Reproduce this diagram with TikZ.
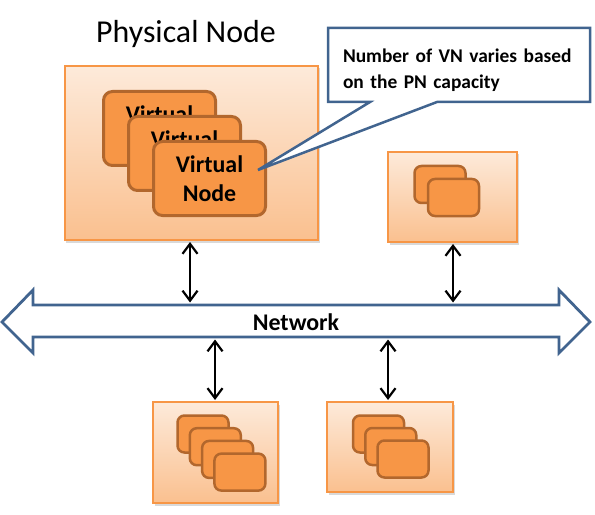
\documentclass[tikz,border=0pt]{standalone}
\usepackage{fontspec}
\setmainfont{Carlito}
\usetikzlibrary{shadows, arrows.meta, calc}

\definecolor{pnline}{HTML}{F79646}
\definecolor{pntop}{HTML}{FDEADA}
\definecolor{pnbottom}{HTML}{FAC08F}
\definecolor{vnfill}{HTML}{F79646}
\definecolor{vnline}{HTML}{B2672D}
\definecolor{netline}{HTML}{41648F}

\tikzset{
    pnbox/.style={draw=pnline, line width=2bp, top color=pntop, bottom color=pnbottom,
        drop shadow={shadow xshift=1.5bp, shadow yshift=-2.5bp, opacity=0.3}},
    vnbig/.style={draw=vnline, fill=vnfill, line width=3bp, rounded corners=9bp,
        minimum width=112bp, minimum height=74bp, align=center,
        font=\fontsize{24}{29}\selectfont\bfseries},
    vnsmall/.style={draw=vnline, fill=vnfill, line width=2.5bp, rounded corners=7bp,
        minimum width=51bp, minimum height=37bp},
    link/.style={{Straight Barb[length=10bp,width=15bp]}-{Straight Barb[length=10bp,width=15bp]},
        line width=2.2bp, shorten <=1bp, shorten >=1bp}
}

\begin{document}
\begin{tikzpicture}[x=1bp, y=-1bp]
    \useasboundingbox (0,0) rectangle (595,515);

    % Title
    \node[anchor=base, font=\fontsize{32}{38}\selectfont] (title) at (186,43) {Physical Node};

    % Physical nodes
    \node[pnbox, minimum width=253bp, minimum height=174bp] (pnA) at (191.5,153) {};
    \node[pnbox, minimum width=129bp, minimum height=90bp] (pnB) at (452.5,197) {};
    \node[pnbox, minimum width=125bp, minimum height=101bp] (pnC) at (215.5,452.5) {};
    \node[pnbox, minimum width=126bp, minimum height=90bp] (pnD) at (390,447) {};

    % Virtual nodes in the big physical node
    \foreach \i in {0,1,2}
        \node[vnbig] (vn\i) at (159.5+25*\i, 128.5+25*\i) {Virtual\\Node};

    % Virtual nodes in the small physical nodes
    \foreach \i in {0,1}
        \node[vnsmall] (vnB\i) at (440+13.5*\i, 184.5+13*\i) {};
    \foreach \i in {0,...,3}
        \node[vnsmall] (vnC\i) at (203+12.3*\i, 434+12.7*\i) {};
    \foreach \i in {0,1,2}
        \node[vnsmall] (vnD\i) at (378.5+12.25*\i, 434+12.5*\i) {};

    % Callout
    \coordinate (callNW) at (328,28);
    \coordinate (callSE) at (590,102);
    \coordinate (tip) at (258,170);
    \draw[netline, line width=2.5bp, fill=white, line join=miter]
        (callNW) -| (callSE) -- ($(callSE)+(-153,0)$) -- (tip)
        -- ($(callNW |- callSE)+(42,0)$) -- (callNW |- callSE) -- cycle;
    \node[text width=232bp, inner sep=0pt, align=left, font=\fontsize{19.5}{26}\selectfont\bfseries]
        (call) at (459,70) {Number of VN varies based\\on the PN capacity};

    % Network
    \draw[netline, line width=2.8bp, fill=white, line join=miter]
        (2,322) -- (33,290) -- (33,305) -- (559,305) -- (559,290) -- (590,322)
        -- (559,353) -- (559,337) -- (33,337) -- (33,353) -- cycle;
    \node[font=\fontsize{24}{29}\selectfont\bfseries] (net) at (296,322) {Network};
    \coordinate (nettop) at (0,303.5);
    \coordinate (netbot) at (0,338.5);

    % Links
    \draw[link] ([xshift=-1.5bp]pnA.south) -- ([xshift=-1.5bp]pnA.south |- nettop);
    \draw[link] ([xshift=0.5bp]pnB.south) -- ([xshift=0.5bp]pnB.south |- nettop);
    \draw[link] ([xshift=-0.5bp]pnC.north) -- ([xshift=-0.5bp]pnC.north |- netbot);
    \draw[link] ([xshift=-2bp]pnD.north) -- ([xshift=-2bp]pnD.north |- netbot);

\end{tikzpicture}
\end{document}
